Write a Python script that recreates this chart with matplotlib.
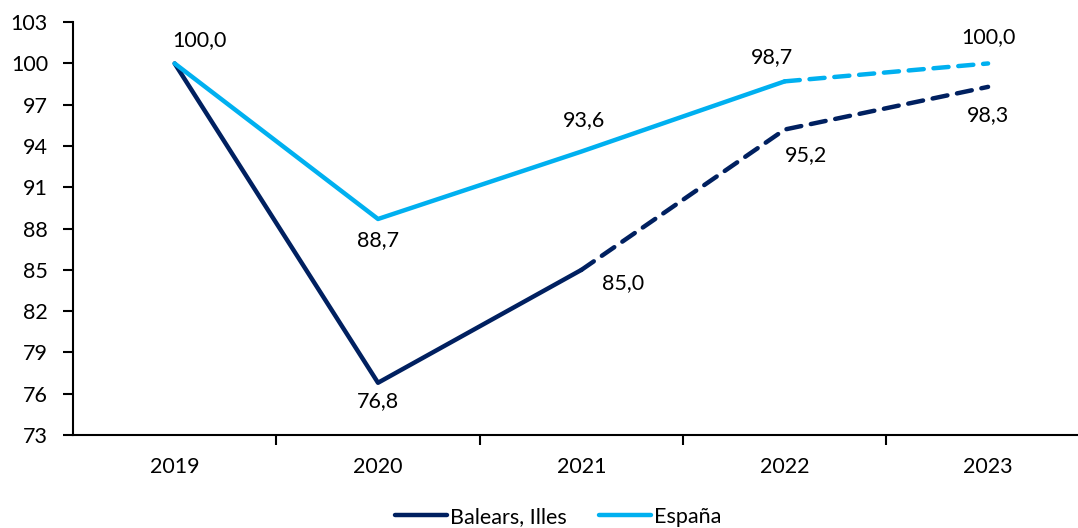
import matplotlib.pyplot as plt
import numpy as np

years = ["2019", "2020", "2021", "2022", "2023"]
balears = [100.0, 76.8, 85.0, 95.2, 98.3]
espana = [100.0, 88.7, 93.6, 98.7, 100.0]
# last index drawn as a solid line; the rest is dashed (forecast)
balears_solid_end = 2
espana_solid_end = 3

NAVY = "#002060"
CYAN = "#00B0F0"
FS = 15.5

plt.rcParams["font.family"] = ["Lato", "DejaVu Sans"]

fig = plt.figure(figsize=(10.78, 5.28), dpi=100)
ax = fig.add_axes([0.0677, 0.176, 0.9432, 0.782])

x = np.arange(len(years))


def draw_series(vals, end, color):
    ax.plot(x[:end + 1], vals[:end + 1], color=color, lw=3.2,
            solid_capstyle="round", solid_joinstyle="round")
    ax.plot(x[end:], vals[end:], color=color, lw=3.2, dashes=(3.4, 2.2),
            dash_capstyle="round")


draw_series(balears, balears_solid_end, NAVY)
draw_series(espana, espana_solid_end, CYAN)

# data labels (offsets in pixels)
bal_off = [(25, 23), (0, -18), (42, -13), (21, -26), (0, -28)]
esp_off = [None, (0, -21), (3, 31), (-13, 24), (0, 26)]
for i, v in enumerate(balears):
    ax.annotate(f"{v:.1f}".replace(".", ","), (x[i], v), xytext=bal_off[i],
                textcoords="offset pixels", ha="center", va="center", fontsize=FS)
for i, v in enumerate(espana):
    if esp_off[i] is None:
        continue
    ax.annotate(f"{v:.1f}".replace(".", ","), (x[i], v), xytext=esp_off[i],
                textcoords="offset pixels", ha="center", va="center", fontsize=FS)

ax.set_xlim(-0.5, len(years) - 0.5)
ax.set_ylim(73, 103)
ax.set_yticks(np.arange(73, 104, 3))
ax.set_xticks(x)
ax.set_xticklabels(years)
ax.set_xticks(np.arange(0.5, len(years) - 0.5, 1), minor=True)
ax.tick_params(axis="x", which="major", length=0, pad=16, labelsize=FS)
ax.tick_params(axis="x", which="minor", length=7, width=1.5, direction="out")
ax.tick_params(axis="y", length=7, width=1.5, direction="out", labelsize=FS, pad=11)

for s in ["top", "right"]:
    ax.spines[s].set_visible(False)
for s in ["left", "bottom"]:
    ax.spines[s].set_linewidth(1.5)

handles = [plt.Line2D([], [], color=NAVY, lw=3.2, solid_capstyle="round"),
           plt.Line2D([], [], color=CYAN, lw=3.2, solid_capstyle="round")]
fig.legend(handles, ["Balears, Illes", "España"], loc="center",
           bbox_to_anchor=(0.518, 1 - 517 / 528), ncol=2, frameon=False,
           fontsize=FS, handlelength=2.4, handletextpad=0.15, columnspacing=1.5)

fig.savefig("out.png", dpi=100)
